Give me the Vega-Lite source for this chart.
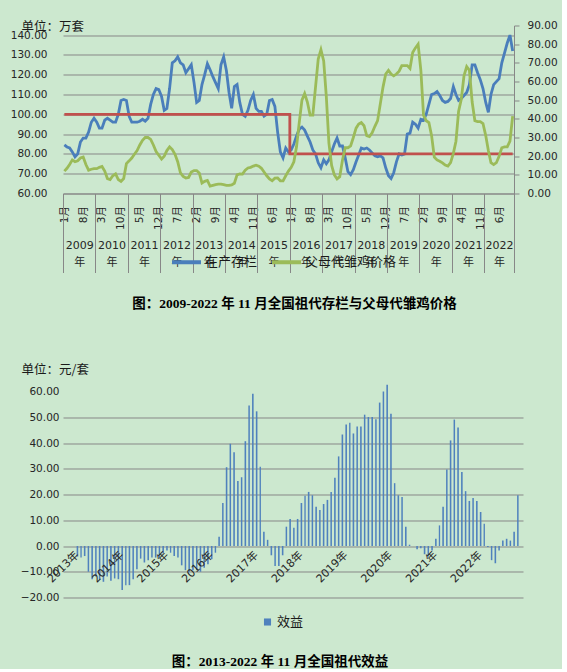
{
  "$schema": "https://vega.github.io/schema/vega-lite/v6.json",
  "background": "#cce8cf",
  "padding": {"left": 10, "top": 20.5, "right": 4, "bottom": 0},
  "spacing": 53,
  "config": {
    "view": {"stroke": null},
    "font": "DejaVu Sans, Noto Sans CJK SC",
    "axis": {
      "labelFont": "DejaVu Sans, Noto Sans CJK SC",
      "labelFontSize": 10.5,
      "labelColor": "#262626",
      "titleFont": "Noto Sans CJK SC",
      "titleFontSize": 12.5,
      "titleFontWeight": "normal",
      "titleColor": "#1a1a1a",
      "gridColor": "#878787",
      "domainColor": "#878787",
      "tickColor": "#878787",
      "labelFlush": false,
      "labelOverlap": false
    },
    "legend": {"labelFont": "Noto Sans CJK SC", "labelFontSize": 13, "labelColor": "#1a1a1a"},
    "title": {"font": "Liberation Serif, Noto Sans CJK SC", "fontSize": 13.5, "fontWeight": "bold", "color": "#000000"}
  },
  "resolve": {"scale": {"color": "independent"}, "legend": {"color": "independent"}},
  "vconcat": [
    {
      "width": 451,
      "height": 168,
      "title": {"text": "图：2009-2022 年 11 月全国祖代存栏与父母代雏鸡价格", "orient": "bottom", "anchor": "middle", "offset": 24, "dx": 6},
      "data": {
        "values": [
          {"date": "2009-01", "stock": 84.5, "price": 12, "ref": 100},
          {"date": "2009-02", "stock": 83.5, "price": 13.5, "ref": 100},
          {"date": "2009-03", "stock": 83, "price": 15.5, "ref": 100},
          {"date": "2009-04", "stock": 81, "price": 18, "ref": 100},
          {"date": "2009-05", "stock": 78.5, "price": 17, "ref": 100},
          {"date": "2009-06", "stock": 80, "price": 17.5, "ref": 100},
          {"date": "2009-07", "stock": 86, "price": 19, "ref": 100},
          {"date": "2009-08", "stock": 88, "price": 19.5, "ref": 100},
          {"date": "2009-09", "stock": 88, "price": 15.5, "ref": 100},
          {"date": "2009-10", "stock": 91, "price": 12.5, "ref": 100},
          {"date": "2009-11", "stock": 96, "price": 13, "ref": 100},
          {"date": "2009-12", "stock": 98, "price": 13.3, "ref": 100},
          {"date": "2010-01", "stock": 96, "price": 13.3, "ref": 100},
          {"date": "2010-02", "stock": 93, "price": 14, "ref": 100},
          {"date": "2010-03", "stock": 93, "price": 14.5, "ref": 100},
          {"date": "2010-04", "stock": 97, "price": 12, "ref": 100},
          {"date": "2010-05", "stock": 98, "price": 8, "ref": 100},
          {"date": "2010-06", "stock": 97, "price": 7.5, "ref": 100},
          {"date": "2010-07", "stock": 96, "price": 9.5, "ref": 100},
          {"date": "2010-08", "stock": 96, "price": 10.5, "ref": 100},
          {"date": "2010-09", "stock": 100, "price": 7.5, "ref": 100},
          {"date": "2010-10", "stock": 107, "price": 6.5, "ref": 100},
          {"date": "2010-11", "stock": 107.5, "price": 8, "ref": 100},
          {"date": "2010-12", "stock": 107, "price": 16, "ref": 100},
          {"date": "2011-01", "stock": 99, "price": 17.5, "ref": 100},
          {"date": "2011-02", "stock": 96, "price": 19, "ref": 100},
          {"date": "2011-03", "stock": 96, "price": 21, "ref": 100},
          {"date": "2011-04", "stock": 96, "price": 23, "ref": 100},
          {"date": "2011-05", "stock": 96.5, "price": 26, "ref": 100},
          {"date": "2011-06", "stock": 97.5, "price": 28.5, "ref": 100},
          {"date": "2011-07", "stock": 96.5, "price": 30, "ref": 100},
          {"date": "2011-08", "stock": 98, "price": 30, "ref": 100},
          {"date": "2011-09", "stock": 105, "price": 29, "ref": 100},
          {"date": "2011-10", "stock": 110, "price": 26, "ref": 100},
          {"date": "2011-11", "stock": 113, "price": 22.5, "ref": 100},
          {"date": "2011-12", "stock": 112.5, "price": 20.5, "ref": 100},
          {"date": "2012-01", "stock": 109, "price": 18.5, "ref": 100},
          {"date": "2012-02", "stock": 102, "price": 20, "ref": 100},
          {"date": "2012-03", "stock": 103, "price": 23, "ref": 100},
          {"date": "2012-04", "stock": 113, "price": 25, "ref": 100},
          {"date": "2012-05", "stock": 126, "price": 23.5, "ref": 100},
          {"date": "2012-06", "stock": 127, "price": 21, "ref": 100},
          {"date": "2012-07", "stock": 129, "price": 17, "ref": 100},
          {"date": "2012-08", "stock": 126, "price": 11, "ref": 100},
          {"date": "2012-09", "stock": 125, "price": 9.2, "ref": 100},
          {"date": "2012-10", "stock": 121, "price": 8.3, "ref": 100},
          {"date": "2012-11", "stock": 123, "price": 8.6, "ref": 100},
          {"date": "2012-12", "stock": 125, "price": 11.5, "ref": 100},
          {"date": "2013-01", "stock": 116, "price": 12.3, "ref": 100},
          {"date": "2013-02", "stock": 106, "price": 12.3, "ref": 100},
          {"date": "2013-03", "stock": 107, "price": 11, "ref": 100},
          {"date": "2013-04", "stock": 115, "price": 5.6, "ref": 100},
          {"date": "2013-05", "stock": 120, "price": 6.5, "ref": 100},
          {"date": "2013-06", "stock": 125.5, "price": 7, "ref": 100},
          {"date": "2013-07", "stock": 122.5, "price": 4, "ref": 100},
          {"date": "2013-08", "stock": 119, "price": 4.4, "ref": 100},
          {"date": "2013-09", "stock": 116, "price": 4.8, "ref": 100},
          {"date": "2013-10", "stock": 113, "price": 5, "ref": 100},
          {"date": "2013-11", "stock": 125, "price": 5, "ref": 100},
          {"date": "2013-12", "stock": 129, "price": 4.7, "ref": 100},
          {"date": "2014-01", "stock": 122, "price": 4.3, "ref": 100},
          {"date": "2014-02", "stock": 111, "price": 4.3, "ref": 100},
          {"date": "2014-03", "stock": 103, "price": 4.6, "ref": 100},
          {"date": "2014-04", "stock": 114, "price": 5.5, "ref": 100},
          {"date": "2014-05", "stock": 115, "price": 10, "ref": 100},
          {"date": "2014-06", "stock": 106, "price": 10.5, "ref": 100},
          {"date": "2014-07", "stock": 100, "price": 10.4, "ref": 100},
          {"date": "2014-08", "stock": 99, "price": 12.5, "ref": 100},
          {"date": "2014-09", "stock": 102, "price": 13.7, "ref": 100},
          {"date": "2014-10", "stock": 107, "price": 14, "ref": 100},
          {"date": "2014-11", "stock": 110, "price": 14.7, "ref": 100},
          {"date": "2014-12", "stock": 103, "price": 15.2, "ref": 100},
          {"date": "2015-01", "stock": 101.5, "price": 14.6, "ref": 100},
          {"date": "2015-02", "stock": 101.5, "price": 13.5, "ref": 100},
          {"date": "2015-03", "stock": 99, "price": 11.5, "ref": 100},
          {"date": "2015-04", "stock": 100, "price": 9.5, "ref": 100},
          {"date": "2015-05", "stock": 107, "price": 7.8, "ref": 100},
          {"date": "2015-06", "stock": 107.5, "price": 6.8, "ref": 100},
          {"date": "2015-07", "stock": 104, "price": 8.2, "ref": 100},
          {"date": "2015-08", "stock": 91, "price": 8.3, "ref": 100},
          {"date": "2015-09", "stock": 81, "price": 6.8, "ref": 100},
          {"date": "2015-10", "stock": 78, "price": 6.8, "ref": 100},
          {"date": "2015-11", "stock": 83, "price": 9.5, "ref": 100},
          {"date": "2015-12", "stock": 81, "price": 12, "ref": 100},
          {"date": "2016-01", "stock": 82, "price": 14, "ref": 80},
          {"date": "2016-02", "stock": 85, "price": 17, "ref": 80},
          {"date": "2016-03", "stock": 89, "price": 25, "ref": 80},
          {"date": "2016-04", "stock": 92.5, "price": 38, "ref": 80},
          {"date": "2016-05", "stock": 93.5, "price": 50, "ref": 80},
          {"date": "2016-06", "stock": 92, "price": 53.5, "ref": 80},
          {"date": "2016-07", "stock": 89, "price": 49, "ref": 80},
          {"date": "2016-08", "stock": 86, "price": 42, "ref": 80},
          {"date": "2016-09", "stock": 82, "price": 42, "ref": 80},
          {"date": "2016-10", "stock": 80, "price": 57, "ref": 80},
          {"date": "2016-11", "stock": 75.5, "price": 72, "ref": 80},
          {"date": "2016-12", "stock": 73, "price": 77, "ref": 80},
          {"date": "2017-01", "stock": 77, "price": 71, "ref": 80},
          {"date": "2017-02", "stock": 75, "price": 52, "ref": 80},
          {"date": "2017-03", "stock": 77, "price": 27, "ref": 80},
          {"date": "2017-04", "stock": 81, "price": 15, "ref": 80},
          {"date": "2017-05", "stock": 85, "price": 10, "ref": 80},
          {"date": "2017-06", "stock": 88, "price": 7.8, "ref": 80},
          {"date": "2017-07", "stock": 84, "price": 9, "ref": 80},
          {"date": "2017-08", "stock": 84, "price": 18, "ref": 80},
          {"date": "2017-09", "stock": 78, "price": 24.5, "ref": 80},
          {"date": "2017-10", "stock": 71, "price": 24.5, "ref": 80},
          {"date": "2017-11", "stock": 69.5, "price": 25.5, "ref": 80},
          {"date": "2017-12", "stock": 72, "price": 30, "ref": 80},
          {"date": "2018-01", "stock": 76, "price": 35, "ref": 80},
          {"date": "2018-02", "stock": 79.5, "price": 37.2, "ref": 80},
          {"date": "2018-03", "stock": 83, "price": 38, "ref": 80},
          {"date": "2018-04", "stock": 82.5, "price": 36.3, "ref": 80},
          {"date": "2018-05", "stock": 83, "price": 31, "ref": 80},
          {"date": "2018-06", "stock": 82, "price": 30.5, "ref": 80},
          {"date": "2018-07", "stock": 80.5, "price": 32.5, "ref": 80},
          {"date": "2018-08", "stock": 79, "price": 36, "ref": 80},
          {"date": "2018-09", "stock": 78.5, "price": 39, "ref": 80},
          {"date": "2018-10", "stock": 79, "price": 48, "ref": 80},
          {"date": "2018-11", "stock": 78, "price": 57, "ref": 80},
          {"date": "2018-12", "stock": 73, "price": 64, "ref": 80},
          {"date": "2019-01", "stock": 69, "price": 66, "ref": 80},
          {"date": "2019-02", "stock": 67.6, "price": 64, "ref": 80},
          {"date": "2019-03", "stock": 70.5, "price": 63, "ref": 80},
          {"date": "2019-04", "stock": 76, "price": 64, "ref": 80},
          {"date": "2019-05", "stock": 80, "price": 65.5, "ref": 80},
          {"date": "2019-06", "stock": 79.5, "price": 68.5, "ref": 80},
          {"date": "2019-07", "stock": 80, "price": 68.5, "ref": 80},
          {"date": "2019-08", "stock": 90, "price": 68.5, "ref": 80},
          {"date": "2019-09", "stock": 90.5, "price": 67, "ref": 80},
          {"date": "2019-10", "stock": 96, "price": 75.5, "ref": 80},
          {"date": "2019-11", "stock": 95, "price": 78, "ref": 80},
          {"date": "2019-12", "stock": 93, "price": 80, "ref": 80},
          {"date": "2020-01", "stock": 97.5, "price": 66, "ref": 80},
          {"date": "2020-02", "stock": 97, "price": 42, "ref": 80},
          {"date": "2020-03", "stock": 100, "price": 39, "ref": 80},
          {"date": "2020-04", "stock": 105, "price": 38, "ref": 80},
          {"date": "2020-05", "stock": 110, "price": 31, "ref": 80},
          {"date": "2020-06", "stock": 110.5, "price": 19.5, "ref": 80},
          {"date": "2020-07", "stock": 111.5, "price": 18, "ref": 80},
          {"date": "2020-08", "stock": 109.5, "price": 17.3, "ref": 80},
          {"date": "2020-09", "stock": 107, "price": 16.4, "ref": 80},
          {"date": "2020-10", "stock": 106, "price": 15.2, "ref": 80},
          {"date": "2020-11", "stock": 106.5, "price": 14.7, "ref": 80},
          {"date": "2020-12", "stock": 108, "price": 16.5, "ref": 80},
          {"date": "2021-01", "stock": 114, "price": 21.5, "ref": 80},
          {"date": "2021-02", "stock": 110, "price": 28, "ref": 80},
          {"date": "2021-03", "stock": 107, "price": 44, "ref": 80},
          {"date": "2021-04", "stock": 108, "price": 50.5, "ref": 80},
          {"date": "2021-05", "stock": 109.5, "price": 63, "ref": 80},
          {"date": "2021-06", "stock": 111, "price": 68, "ref": 80},
          {"date": "2021-07", "stock": 115, "price": 66, "ref": 80},
          {"date": "2021-08", "stock": 125, "price": 49, "ref": 80},
          {"date": "2021-09", "stock": 125, "price": 39, "ref": 80},
          {"date": "2021-10", "stock": 121, "price": 38.5, "ref": 80},
          {"date": "2021-11", "stock": 117.5, "price": 38.5, "ref": 80},
          {"date": "2021-12", "stock": 113, "price": 37.5, "ref": 80},
          {"date": "2022-01", "stock": 106, "price": 31, "ref": 80},
          {"date": "2022-02", "stock": 101, "price": 23, "ref": 80},
          {"date": "2022-03", "stock": 110, "price": 16.5, "ref": 80},
          {"date": "2022-04", "stock": 115, "price": 15.5, "ref": 80},
          {"date": "2022-05", "stock": 116.5, "price": 16.5, "ref": 80},
          {"date": "2022-06", "stock": 118, "price": 20, "ref": 80},
          {"date": "2022-07", "stock": 126, "price": 24.5, "ref": 80},
          {"date": "2022-08", "stock": 131, "price": 25, "ref": 80},
          {"date": "2022-09", "stock": 136, "price": 25, "ref": 80},
          {"date": "2022-10", "stock": 140, "price": 28, "ref": 80},
          {"date": "2022-11", "stock": 132, "price": 41.5, "ref": 80}
        ]
      },
      "resolve": {"scale": {"y": "independent"}, "axis": {"x": "independent", "y": "independent"}},
      "layer": [
        {
          "mark": {"type": "line", "strokeWidth": 2.8},
          "encoding": {
            "x": {
              "field": "date", "type": "temporal", "timeUnit": "utcyearmonth", "bandPosition": 0.5,
              "scale": {"domain": [{"year": 2009, "month": 1, "date": 1, "utc": true}, {"year": 2022, "month": 12, "date": 1, "utc": true}]},
              "axis": {
                "orient": "bottom", "title": null, "grid": false, "ticks": false, "domain": true,
                "labelAngle": -90, "labelPadding": 12,
                "labelExpr": "(utcmonth(datum.value) + 1) + '月'",
                "values": [
                  {"year": 2009, "month": 1, "date": 16, "utc": true},
                  {"year": 2009, "month": 8, "date": 16, "utc": true},
                  {"year": 2010, "month": 3, "date": 16, "utc": true},
                  {"year": 2010, "month": 10, "date": 16, "utc": true},
                  {"year": 2011, "month": 5, "date": 16, "utc": true},
                  {"year": 2011, "month": 12, "date": 16, "utc": true},
                  {"year": 2012, "month": 7, "date": 16, "utc": true},
                  {"year": 2013, "month": 2, "date": 15, "utc": true},
                  {"year": 2013, "month": 9, "date": 16, "utc": true},
                  {"year": 2014, "month": 4, "date": 16, "utc": true},
                  {"year": 2014, "month": 11, "date": 16, "utc": true},
                  {"year": 2015, "month": 6, "date": 16, "utc": true},
                  {"year": 2016, "month": 1, "date": 16, "utc": true},
                  {"year": 2016, "month": 8, "date": 16, "utc": true},
                  {"year": 2017, "month": 3, "date": 16, "utc": true},
                  {"year": 2017, "month": 10, "date": 16, "utc": true},
                  {"year": 2018, "month": 5, "date": 16, "utc": true},
                  {"year": 2018, "month": 12, "date": 16, "utc": true},
                  {"year": 2019, "month": 7, "date": 16, "utc": true},
                  {"year": 2020, "month": 2, "date": 15, "utc": true},
                  {"year": 2020, "month": 9, "date": 16, "utc": true},
                  {"year": 2021, "month": 4, "date": 16, "utc": true},
                  {"year": 2021, "month": 11, "date": 16, "utc": true},
                  {"year": 2022, "month": 6, "date": 16, "utc": true}
                ]
              }
            },
            "y": {
              "field": "stock", "type": "quantitative",
              "scale": {"domain": [60, 144.85], "nice": false, "zero": false},
              "axis": {
                "orient": "left", "values": [60, 70, 80, 90, 100, 110, 120, 130, 140], "format": ".2f",
                "grid": true, "domain": false, "ticks": false, "labelPadding": 16,
                "title": "单位：万套", "titleAngle": 0, "titleX": -42, "titleY": 1, "titleAlign": "left", "titleBaseline": "middle"
              }
            },
            "color": {
              "datum": "在产存栏",
              "scale": {"domain": ["在产存栏", "父母代雏鸡价格"], "range": ["#4a7ebb", "#9bbb59"]},
              "legend": {
                "orient": "none", "legendX": 107, "legendY": 220, "direction": "horizontal", "title": null,
                "symbolType": "stroke", "symbolSize": 841, "symbolStrokeWidth": 4, "columnPadding": 6, "labelOffset": 2
              }
            }
          }
        },
        {
          "mark": {"type": "line", "color": "#c0504d", "strokeWidth": 2.8, "interpolate": "step"},
          "encoding": {
            "x": {
              "field": "date", "type": "temporal", "timeUnit": "utcyearmonth", "bandPosition": 0.5,
              "scale": {"domain": [{"year": 2009, "month": 1, "date": 1, "utc": true}, {"year": 2022, "month": 12, "date": 1, "utc": true}]},
              "axis": {
                "orient": "bottom", "title": null, "grid": false, "labels": false, "domain": false,
                "ticks": true, "tickSize": 79,
                "values": [
                  {"year": 2009, "month": 1, "date": 1, "utc": true},
                  {"year": 2010, "month": 1, "date": 1, "utc": true},
                  {"year": 2011, "month": 1, "date": 1, "utc": true},
                  {"year": 2012, "month": 1, "date": 1, "utc": true},
                  {"year": 2013, "month": 1, "date": 1, "utc": true},
                  {"year": 2014, "month": 1, "date": 1, "utc": true},
                  {"year": 2015, "month": 1, "date": 1, "utc": true},
                  {"year": 2016, "month": 1, "date": 1, "utc": true},
                  {"year": 2017, "month": 1, "date": 1, "utc": true},
                  {"year": 2018, "month": 1, "date": 1, "utc": true},
                  {"year": 2019, "month": 1, "date": 1, "utc": true},
                  {"year": 2020, "month": 1, "date": 1, "utc": true},
                  {"year": 2021, "month": 1, "date": 1, "utc": true},
                  {"year": 2022, "month": 1, "date": 1, "utc": true},
                  {"year": 2022, "month": 12, "date": 1, "utc": true}
                ]
              }
            },
            "y": {
              "field": "ref", "type": "quantitative",
              "scale": {"domain": [60, 144.85], "nice": false, "zero": false},
              "axis": null
            }
          }
        },
        {
          "mark": {"type": "line", "strokeWidth": 2.8},
          "encoding": {
            "x": {
              "field": "date", "type": "temporal", "timeUnit": "utcyearmonth", "bandPosition": 0.5,
              "scale": {"domain": [{"year": 2009, "month": 1, "date": 1, "utc": true}, {"year": 2022, "month": 12, "date": 1, "utc": true}]},
              "axis": {
                "orient": "bottom", "title": null, "grid": false, "ticks": false, "domain": false,
                "offset": 40, "labelPadding": 6, "labelAngle": 0, "labelAlign": "center", "labelBaseline": "top",
                "labelFontSize": 11, "labelLineHeight": 17,
                "labelExpr": "[toString(utcyear(datum.value)), '年']",
                "values": [
                  {"year": 2009, "month": 7, "date": 2, "utc": true},
                  {"year": 2010, "month": 7, "date": 2, "utc": true},
                  {"year": 2011, "month": 7, "date": 2, "utc": true},
                  {"year": 2012, "month": 7, "date": 2, "utc": true},
                  {"year": 2013, "month": 7, "date": 2, "utc": true},
                  {"year": 2014, "month": 7, "date": 2, "utc": true},
                  {"year": 2015, "month": 7, "date": 2, "utc": true},
                  {"year": 2016, "month": 7, "date": 2, "utc": true},
                  {"year": 2017, "month": 7, "date": 2, "utc": true},
                  {"year": 2018, "month": 7, "date": 2, "utc": true},
                  {"year": 2019, "month": 7, "date": 2, "utc": true},
                  {"year": 2020, "month": 7, "date": 2, "utc": true},
                  {"year": 2021, "month": 7, "date": 2, "utc": true},
                  {"year": 2022, "month": 6, "date": 16, "utc": true}
                ]
              }
            },
            "y": {
              "field": "price", "type": "quantitative",
              "scale": {"domain": [0, 90], "nice": false},
              "axis": {
                "orient": "right", "values": [0, 10, 20, 30, 40, 50, 60, 70, 80, 90], "format": ".2f",
                "grid": false, "domain": true, "ticks": true, "tickSize": 5, "labelPadding": 8, "title": null
              }
            },
            "color": {"datum": "父母代雏鸡价格"}
          }
        }
      ]
    },
    {
      "width": 460,
      "height": 206,
      "title": {"text": "图：2013-2022 年 11 月全国祖代效益", "orient": "bottom", "anchor": "middle", "offset": 25, "dx": -13},
      "data": {
        "values": [
          {"date": "2013-01", "v": -4.1}, {"date": "2013-02", "v": -4.5}, {"date": "2013-03", "v": -3.9},
          {"date": "2013-04", "v": -10.0}, {"date": "2013-05", "v": -12.9}, {"date": "2013-06", "v": -11.8},
          {"date": "2013-07", "v": -13.1}, {"date": "2013-08", "v": -13.9}, {"date": "2013-09", "v": -11.8},
          {"date": "2013-10", "v": -13.5}, {"date": "2013-11", "v": -12.6}, {"date": "2013-12", "v": -12.9},
          {"date": "2014-01", "v": -17.1}, {"date": "2014-02", "v": -15.2}, {"date": "2014-03", "v": -15.2},
          {"date": "2014-04", "v": -12.9}, {"date": "2014-05", "v": -9.0}, {"date": "2014-06", "v": -4.9},
          {"date": "2014-07", "v": -6.4}, {"date": "2014-08", "v": -5.5}, {"date": "2014-09", "v": -4.5},
          {"date": "2014-10", "v": -4.5}, {"date": "2014-11", "v": -4.5}, {"date": "2014-12", "v": -2.8},
          {"date": "2015-01", "v": -1.7}, {"date": "2015-02", "v": -2.6}, {"date": "2015-03", "v": -3.9},
          {"date": "2015-04", "v": -4.5}, {"date": "2015-05", "v": -7.5}, {"date": "2015-06", "v": -9.4},
          {"date": "2015-07", "v": -10.0}, {"date": "2015-08", "v": -9.4}, {"date": "2015-09", "v": -9.4},
          {"date": "2015-10", "v": -10.0}, {"date": "2015-11", "v": -8.4}, {"date": "2015-12", "v": -7.1},
          {"date": "2016-01", "v": -5.1}, {"date": "2016-02", "v": -2.6}, {"date": "2016-03", "v": 3.6},
          {"date": "2016-04", "v": 16.7}, {"date": "2016-05", "v": 30.6}, {"date": "2016-06", "v": 39.7},
          {"date": "2016-07", "v": 36.4}, {"date": "2016-08", "v": 25.2}, {"date": "2016-09", "v": 26.7},
          {"date": "2016-10", "v": 40.7}, {"date": "2016-11", "v": 54.6}, {"date": "2016-12", "v": 59.1},
          {"date": "2017-01", "v": 52.3}, {"date": "2017-02", "v": 30.8}, {"date": "2017-03", "v": 5.5},
          {"date": "2017-04", "v": 2.4}, {"date": "2017-05", "v": -3.6}, {"date": "2017-06", "v": -7.8},
          {"date": "2017-07", "v": -7.8}, {"date": "2017-08", "v": -3.6}, {"date": "2017-09", "v": 7.5},
          {"date": "2017-10", "v": 10.5}, {"date": "2017-11", "v": 7.1}, {"date": "2017-12", "v": 10.5},
          {"date": "2018-01", "v": 16.7}, {"date": "2018-02", "v": 19.5}, {"date": "2018-03", "v": 21.0},
          {"date": "2018-04", "v": 19.7}, {"date": "2018-05", "v": 15.2}, {"date": "2018-06", "v": 14.0},
          {"date": "2018-07", "v": 16.3}, {"date": "2018-08", "v": 17.9}, {"date": "2018-09", "v": 21.0},
          {"date": "2018-10", "v": 26.5}, {"date": "2018-11", "v": 34.8}, {"date": "2018-12", "v": 43.3},
          {"date": "2019-01", "v": 47.2}, {"date": "2019-02", "v": 47.9}, {"date": "2019-03", "v": 43.7},
          {"date": "2019-04", "v": 46.4}, {"date": "2019-05", "v": 46.4}, {"date": "2019-06", "v": 51.0},
          {"date": "2019-07", "v": 50.1}, {"date": "2019-08", "v": 50.1}, {"date": "2019-09", "v": 49.2},
          {"date": "2019-10", "v": 55.7}, {"date": "2019-11", "v": 60.0}, {"date": "2019-12", "v": 62.6},
          {"date": "2020-01", "v": 51.4}, {"date": "2020-02", "v": 24.4}, {"date": "2020-03", "v": 19.7},
          {"date": "2020-04", "v": 19.0}, {"date": "2020-05", "v": 7.5}, {"date": "2020-06", "v": 0.5},
          {"date": "2020-07", "v": 0}, {"date": "2020-08", "v": -1.3}, {"date": "2020-09", "v": -0.9},
          {"date": "2020-10", "v": -3.2}, {"date": "2020-11", "v": -4.1}, {"date": "2020-12", "v": -1.7},
          {"date": "2021-01", "v": 2.8}, {"date": "2021-02", "v": 8.0}, {"date": "2021-03", "v": 15.2},
          {"date": "2021-04", "v": 29.7}, {"date": "2021-05", "v": 41.0}, {"date": "2021-06", "v": 49.1},
          {"date": "2021-07", "v": 46.0}, {"date": "2021-08", "v": 28.7}, {"date": "2021-09", "v": 21.3},
          {"date": "2021-10", "v": 17.5}, {"date": "2021-11", "v": 18.6}, {"date": "2021-12", "v": 17.5},
          {"date": "2022-01", "v": 13.2}, {"date": "2022-02", "v": 8.6}, {"date": "2022-03", "v": -0.4},
          {"date": "2022-04", "v": -5.5}, {"date": "2022-05", "v": -6.7}, {"date": "2022-06", "v": -1.7},
          {"date": "2022-07", "v": 2.1}, {"date": "2022-08", "v": 2.8}, {"date": "2022-09", "v": 2.1},
          {"date": "2022-10", "v": 5.5}, {"date": "2022-11", "v": 19.7}
        ]
      },
      "mark": {"type": "bar", "width": {"band": 0.68}},
      "encoding": {
        "x": {
          "field": "date", "type": "temporal", "timeUnit": "utcyearmonth",
          "scale": {"domain": [{"year": 2012, "month": 9, "date": 25, "utc": true}, {"year": 2023, "month": 1, "date": 1, "utc": true}]},
          "axis": {
            "orient": "bottom", "offset": -51.5, "title": null, "grid": false, "ticks": false, "domain": false,
            "labelAngle": -45, "labelBaseline": "middle", "labelPadding": 7, "labelFontSize": 11, "zindex": 1,
            "labelExpr": "utcyear(datum.value) + '年'",
            "values": [
              {"year": 2013, "month": 1, "date": 16, "utc": true},
              {"year": 2014, "month": 1, "date": 16, "utc": true},
              {"year": 2015, "month": 1, "date": 16, "utc": true},
              {"year": 2016, "month": 1, "date": 16, "utc": true},
              {"year": 2017, "month": 1, "date": 16, "utc": true},
              {"year": 2018, "month": 1, "date": 16, "utc": true},
              {"year": 2019, "month": 1, "date": 16, "utc": true},
              {"year": 2020, "month": 1, "date": 16, "utc": true},
              {"year": 2021, "month": 1, "date": 16, "utc": true},
              {"year": 2022, "month": 1, "date": 16, "utc": true}
            ]
          }
        },
        "y": {
          "field": "v", "type": "quantitative",
          "scale": {"domain": [-20, 60], "nice": false, "zero": false},
          "axis": {
            "values": [-20, -10, 0, 10, 20, 30, 40, 50, 60], "format": ".2f",
            "grid": true, "gridOpacity": {"condition": {"test": "datum.value === 60", "value": 0}, "value": 1},
            "domain": false, "ticks": false, "labelPadding": 4,
            "title": "单位：元/套", "titleAngle": 0, "titleX": -42, "titleY": -22, "titleAlign": "left", "titleBaseline": "middle"
          }
        },
        "color": {
          "datum": "效益",
          "scale": {"range": ["#4f81bd"]},
          "legend": {"orient": "none", "legendX": 198, "legendY": 224, "title": null, "symbolType": "square", "symbolSize": 50, "labelOffset": 3}
        }
      }
    }
  ]
}
